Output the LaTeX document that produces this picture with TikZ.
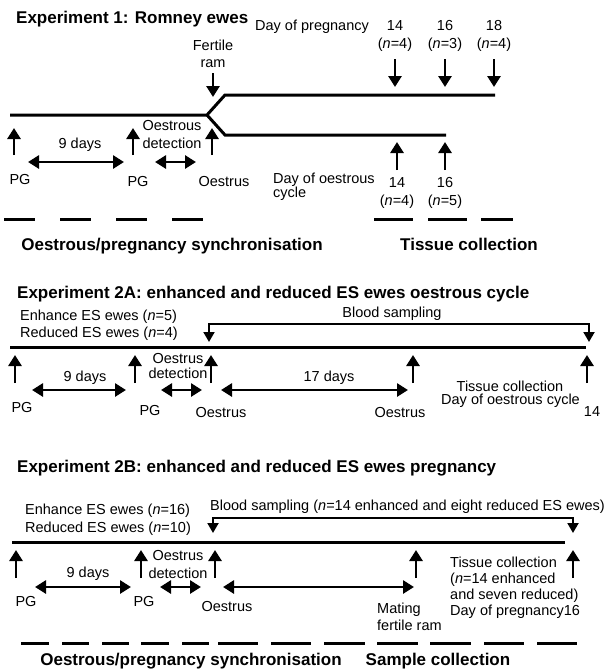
\documentclass[tikz,border=0pt]{standalone}
\usepackage{fontspec}
\setmainfont{Liberation Sans}
\usetikzlibrary{arrows.meta}

\tikzset{
  txt/.style={font=\fontsize{14.5}{17}\selectfont, inner sep=0pt},
  hd/.style={font=\fontsize{17}{20}\selectfont\bfseries, inner sep=0pt},
  tline/.style={line width=3pt},
  uparr/.style={line width=2.8pt, -{Triangle[width=13pt,length=11pt]}},
  dbl/.style={line width=2.8pt, {Triangle[width=13pt,length=11pt]}-{Triangle[width=13pt,length=11pt]}},
  blood/.style={line width=2pt, {Triangle[width=11pt,length=10pt]}-{Triangle[width=11pt,length=10pt]}},
  dashbar/.style={line width=3pt},
}

\begin{document}
\begin{tikzpicture}[x=1pt, y=-1pt]
\useasboundingbox (0,0) rectangle (613,670);

% ---------- Experiment 1 ----------
\node[hd, anchor=base west] (ttlA) at (16,23) {Experiment 1: Romney ewes};
\node[txt, anchor=base west] (dayp) at (255,30) {Day of pregnancy};
\foreach \x/\d/\n [count=\i] in {395/14/4, 445/16/3, 494/18/4} {
  \node[txt, anchor=base] (pd\i) at (\x,30) {\d};
  \node[txt, anchor=base] (pn\i) at (\x,48) {(\textit{n}=\n)};
  \coordinate (pa\i) at (\x,59);
  \coordinate (pb\i) at (\x,87);
  \draw[uparr] (pa\i) -- (pb\i);
}
\node[txt, anchor=base] (fert) at (213,50) {Fertile};
\node[txt, anchor=base] (ram) at (213,67) {ram};
\coordinate (fa) at (213,73);
\coordinate (fb) at (213,97);
\draw[uparr] (fa) -- (fb);

\coordinate (m0) at (10,115);
\coordinate (mf) at (207,115);
\coordinate (up0) at (225,95);
\coordinate (up1) at (495,95);
\coordinate (lo0) at (225,135);
\coordinate (lo1) at (446,135);
\draw[tline] (m0) -- (mf) -- (up0) -- (up1);
\draw[tline] (mf) -- (lo0) -- (lo1);

\foreach \x [count=\i] in {14,133,212} {
  \coordinate (ea\i) at (\x,155);
  \coordinate (eb\i) at (\x,128);
  \draw[uparr] (ea\i) -- (eb\i);
}
\node[txt, anchor=base] (nineA) at (80,148) {9 days};
\coordinate (na0) at (28,162);
\coordinate (na1) at (124,162);
\draw[dbl] (na0) -- (na1);
\node[txt, anchor=base] (oesA) at (172,130) {Oestrous};
\node[txt, anchor=base] (detA) at (172,148) {detection};
\coordinate (da0) at (155,162);
\coordinate (da1) at (196,162);
\draw[dbl] (da0) -- (da1);
\node[txt, anchor=base] (pgA1) at (20,184) {PG};
\node[txt, anchor=base] (pgA2) at (138,186) {PG};
\node[txt, anchor=base] (oeA) at (224,186) {Oestrus};
\node[txt, anchor=base west] (dayo) at (273,183) {Day of oestrous};
\node[txt, anchor=base west] (cyc) at (273,197) {cycle};
\foreach \x/\d/\n [count=\i] in {397/14/4, 445/16/5} {
  \coordinate (ca\i) at (\x,170);
  \coordinate (cb\i) at (\x,142);
  \draw[uparr] (ca\i) -- (cb\i);
  \node[txt, anchor=base] (cd\i) at (\x,187) {\d};
  \node[txt, anchor=base] (cn\i) at (\x,205) {(\textit{n}=\n)};
}
\foreach \a/\b [count=\i] in {4/35, 60/91, 116/147, 172/203, 374/413, 428/467, 481/513} {
  \coordinate (ds\i) at (\a,219);
  \coordinate (de\i) at (\b,219);
  \draw[dashbar] (ds\i) -- (de\i);
}
\node[hd, anchor=base] (syncA) at (172,250) {Oestrous/pregnancy synchronisation};
\node[hd, anchor=base] (tisA) at (469,250) {Tissue collection};

% ---------- Experiment 2A ----------
\node[hd, anchor=base west] (ttlB) at (17,298) {Experiment 2A: enhanced and reduced ES ewes oestrous cycle};
\node[txt, anchor=base west] (enhB) at (20,320) {Enhance ES ewes (\textit{n}=5)};
\node[txt, anchor=base west] (redB) at (20,337) {Reduced ES ewes (\textit{n}=4)};
\node[txt, anchor=base] (bloodB) at (392,317) {Blood sampling};
\coordinate (bb1) at (209,342);
\coordinate (bb2) at (209,324);
\coordinate (bb3) at (589,324);
\coordinate (bb4) at (589,342);
\draw[blood] (bb1) -- (bb2) -- (bb3) -- (bb4);
\coordinate (mb0) at (10,347);
\coordinate (mb1) at (586,347);
\draw[tline] (mb0) -- (mb1);
\foreach \x [count=\i] in {15,135,211,413,587} {
  \coordinate (fa\i) at (\x,383);
  \coordinate (fb\i) at (\x,355);
  \draw[uparr] (fa\i) -- (fb\i);
}
\node[txt, anchor=base] (nineB) at (85,381) {9 days};
\coordinate (nb0) at (32,390);
\coordinate (nb1) at (126,390);
\draw[dbl] (nb0) -- (nb1);
\node[txt, anchor=base] (oesB) at (178,363) {Oestrus};
\node[txt, anchor=base] (detB) at (178,378) {detection};
\coordinate (db0) at (161,390);
\coordinate (db1) at (202,390);
\draw[dbl] (db0) -- (db1);
\node[txt, anchor=base] (sevB) at (329,381) {17 days};
\coordinate (sb0) at (221,390);
\coordinate (sb1) at (408,390);
\draw[dbl] (sb0) -- (sb1);
\node[txt, anchor=base] (pgB1) at (22,412) {PG};
\node[txt, anchor=base] (pgB2) at (150,415) {PG};
\node[txt, anchor=base] (oeB1) at (221,417) {Oestrus};
\node[txt, anchor=base] (oeB2) at (400,417) {Oestrus};
\node[txt, anchor=base] (tisB) at (510,391) {Tissue collection};
\node[txt, anchor=base west] (dayB) at (441,404) {Day of oestrous cycle};
\node[txt, anchor=base] (dB) at (592,416) {14};

% ---------- Experiment 2B ----------
\node[hd, anchor=base west] (ttlC) at (17,472) {Experiment 2B: enhanced and reduced ES ewes pregnancy};
\node[txt, anchor=base west] (enhC) at (25,514) {Enhance ES ewes (\textit{n}=16)};
\node[txt, anchor=base west] (redC) at (25,532) {Reduced ES ewes (\textit{n}=10)};
\node[txt, anchor=base west] (bloodC) at (210,510) {Blood sampling (\textit{n}=14 enhanced and eight reduced ES ewes)};
\coordinate (bc1) at (213,533);
\coordinate (bc2) at (213,518);
\coordinate (bc3) at (573,518);
\coordinate (bc4) at (573,533);
\draw[blood] (bc1) -- (bc2) -- (bc3) -- (bc4);
\coordinate (mc0) at (12,542);
\coordinate (mc1) at (565,542);
\draw[tline] (mc0) -- (mc1);
\foreach \x [count=\i] in {16,141,215,416,573} {
  \coordinate (ga\i) at (\x,578);
  \coordinate (gb\i) at (\x,550);
  \draw[uparr] (ga\i) -- (gb\i);
}
\node[txt, anchor=base] (nineC) at (88,577) {9 days};
\coordinate (nc0) at (35,587);
\coordinate (nc1) at (131,587);
\draw[dbl] (nc0) -- (nc1);
\node[txt, anchor=base] (oesC) at (178,560) {Oestrus};
\node[txt, anchor=base] (detC) at (178,578) {detection};
\coordinate (dc0) at (160,587);
\coordinate (dc1) at (201,587);
\draw[dbl] (dc0) -- (dc1);
\coordinate (lc0) at (223,587);
\coordinate (lc1) at (414,587);
\draw[dbl] (lc0) -- (lc1);
\node[txt, anchor=base] (pgC1) at (26,606) {PG};
\node[txt, anchor=base] (pgC2) at (144,606) {PG};
\node[txt, anchor=base] (oeC) at (227,611) {Oestrus};
\node[txt, anchor=base west] (matC) at (377,613) {Mating};
\node[txt, anchor=base west] (ramC) at (377,630) {fertile ram};
\node[txt, anchor=base west] (tisC1) at (450,567) {Tissue collection};
\node[txt, anchor=base west] (tisC2) at (450,583) {(\textit{n}=14 enhanced};
\node[txt, anchor=base west] (tisC3) at (450,599) {and seven reduced)};
\node[txt, anchor=base west] (tisC4) at (450,615) {Day of pregnancy16};
\foreach \a/\b [count=\i] in {21/49, 62/89, 102/129, 141/169, 182/209, 218/258, 271/311, 324/365, 377/418, 430/471, 484/524, 537/577} {
  \coordinate (es\i) at (\a,643);
  \coordinate (ee\i) at (\b,643);
  \draw[dashbar] (es\i) -- (ee\i);
}
\node[hd, anchor=base] (syncC) at (191,665) {Oestrous/pregnancy synchronisation};
\node[hd, anchor=base] (sampC) at (438,665) {Sample collection};
\end{tikzpicture}
\end{document}
